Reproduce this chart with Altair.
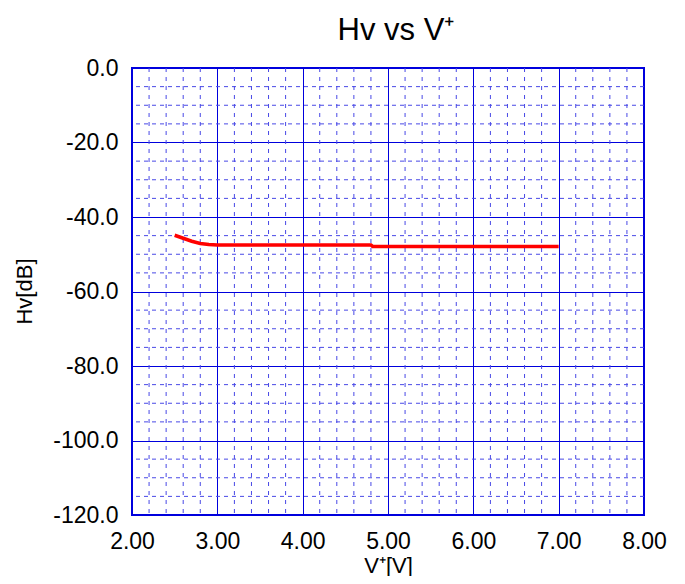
import altair as alt
import pandas as pd

# Data
v_plus = [2.5, 2.6, 2.7, 2.8, 2.9, 3.0, 3.5, 4.0, 4.5, 4.8, 4.82, 5.0, 5.5, 6.0, 6.5, 7.0]
hv_db = [-44.9, -45.7, -46.5, -47.1, -47.4, -47.5, -47.5, -47.5, -47.5, -47.5,
         -47.9, -47.9, -47.9, -47.9, -47.9, -47.9]

x_ticks = [2, 3, 4, 5, 6, 7, 8]
y_ticks = [-120, -100, -80, -60, -40, -20, 0]
x_minor = [2.2, 2.4, 2.6, 2.8, 3.2, 3.4, 3.6, 3.8, 4.2, 4.4, 4.6, 4.8,
           5.2, 5.4, 5.6, 5.8, 6.2, 6.4, 6.6, 6.8, 7.2, 7.4, 7.6, 7.8]
y_minor = [-5, -10, -15, -25, -30, -35, -45, -50, -55, -65, -70, -75,
           -85, -90, -95, -105, -110, -115]

FONT = "Liberation Sans"
MAJOR = "#0000DD"
MINOR = "#4848E6"

df = pd.DataFrame({"v": v_plus, "hv": hv_db})

xscale = alt.Scale(domain=[2, 8], nice=False, zero=False)
yscale = alt.Scale(domain=[-120, 0], nice=False, zero=False)

xaxis = alt.Axis(
    values=x_ticks, format=".2f", title="V⁺[V]", grid=True, gridColor=MAJOR,
    gridWidth=1, domain=False, ticks=False, labelFont=FONT, labelFontSize=23,
    labelColor="black", labelPadding=15, labelFlush=False, labelOverlap=False,
    titleFont=FONT, titleFontSize=22, titleFontWeight="normal", titleColor="black",
    titleY=57, titleBaseline="alphabetic",
)
yaxis = alt.Axis(
    values=y_ticks, title="Hv[dB]", grid=True, gridColor=MAJOR,
    labelExpr="(datum.value < 0 ? '-' : '') + format(abs(datum.value), '.1f')",
    gridWidth=1, domain=False, ticks=False, labelFont=FONT, labelFontSize=23,
    labelColor="black", labelPadding=14, labelFlush=False, labelOverlap=False,
    titleFont=FONT, titleFontSize=22, titleFontWeight="normal", titleColor="black",
    titleX=-108, titleY=223, titleBaseline="middle", titleAngle=-90,
)

vminor = alt.Chart(pd.DataFrame({"x": x_minor})).mark_rule(
    color=MINOR, strokeWidth=1, strokeDash=[4, 5]
).encode(x=alt.X("x:Q", scale=xscale, axis=xaxis))

hminor = alt.Chart(pd.DataFrame({"y": y_minor})).mark_rule(
    color=MINOR, strokeWidth=1, strokeDash=[4, 4]
).encode(y=alt.Y("y:Q", scale=yscale, axis=yaxis))

line = alt.Chart(df).mark_line(color="#FF0000", strokeWidth=3.5).encode(
    x=alt.X("v:Q", scale=xscale, axis=xaxis),
    y=alt.Y("hv:Q", scale=yscale, axis=yaxis),
)

chart = alt.layer(vminor, hminor, line).properties(
    width=512,
    height=447,
    autosize=alt.AutoSizeParams(type="none"),
    padding={"left": 124, "top": 60, "right": 33, "bottom": 61},
    title=alt.TitleParams(
        text="Hv vs V⁺", font=FONT, fontSize=31, fontWeight="normal",
        color="black", anchor="middle", dx=8, dy=31, offset=10, baseline="bottom",
    ),
).configure_view(stroke=MAJOR, strokeWidth=2)

chart.save("out.html", embed_options={"renderer": "svg", "actions": False})
